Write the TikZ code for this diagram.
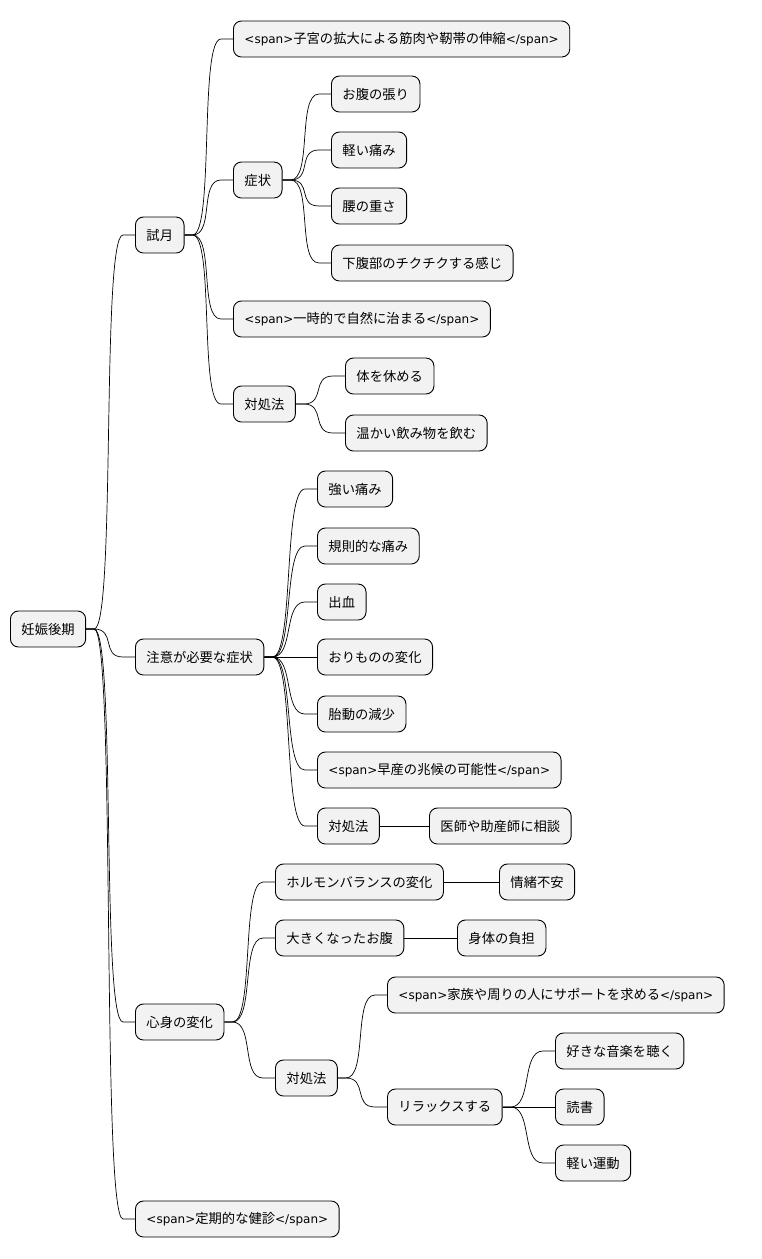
\documentclass[tikz,border=0pt]{standalone}
\usepackage{fontspec}
\setmainfont{Noto Sans CJK JP}
\newfontfamily\lat{DejaVu Sans}
\newcommand{\spo}{{\lat\fontsize{12}{14}\selectfont <span>}}
\newcommand{\spc}{{\lat\fontsize{12}{14}\selectfont </span>}}
\usetikzlibrary{calc}
\begin{document}
\begin{tikzpicture}[x=1pt,y=1pt,
  box/.style={draw=black,line width=0.9pt,fill=black!5,rounded corners=8pt,anchor=west,
    minimum height=36pt,inner xsep=11pt,font=\fontsize{13.3}{15}\selectfont},
  ln/.style={line width=0.7pt}]
\useasboundingbox (0,0) rectangle (761,-1259);
\node[box] (r) at (10,-629) {妊娠後期};
\node[box] (a) at (135,-235) {試月};
\node[box] (a1) at (233,-39) {\spo 子宮の拡大による筋肉や靭帯の伸縮\spc};
\node[box] (a2) at (233,-180) {症状};
\node[box] (a21) at (331,-94) {お腹の張り};
\node[box] (a22) at (331,-150) {軽い痛み};
\node[box] (a23) at (331,-206) {腰の重さ};
\node[box] (a24) at (331,-263) {下腹部のチクチクする感じ};
\node[box] (a3) at (233,-319) {\spo 一時的で自然に治まる\spc};
\node[box] (a4) at (233,-404) {対処法};
\node[box] (a41) at (345,-376) {体を休める};
\node[box] (a42) at (345,-433) {温かい飲み物を飲む};
\node[box] (b) at (135,-657) {注意が必要な症状};
\node[box] (b1) at (317,-489) {強い痛み};
\node[box] (b2) at (317,-546) {規則的な痛み};
\node[box] (b3) at (317,-602) {出血};
\node[box] (b4) at (317,-657) {おりものの変化};
\node[box] (b5) at (317,-714) {胎動の減少};
\node[box] (b6) at (317,-770) {\spo 早産の兆候の可能性\spc};
\node[box] (b7) at (317,-826) {対処法};
\node[box] (b71) at (429,-826) {医師や助産師に相談};
\node[box] (c) at (135,-1022) {心身の変化};
\node[box] (c1) at (275,-882) {ホルモンバランスの変化};
\node[box] (c11) at (499,-882) {情緒不安};
\node[box] (c2) at (275,-938) {大きくなったお腹};
\node[box] (c21) at (457,-938) {身体の負担};
\node[box] (c3) at (275,-1078) {対処法};
\node[box] (c31) at (387,-995) {\spo 家族や周りの人にサポートを求める\spc};
\node[box] (c32) at (387,-1107) {リラックスする};
\node[box] (c321) at (555,-1051) {好きな音楽を聴く};
\node[box] (c322) at (555,-1107) {読書};
\node[box] (c323) at (555,-1163) {軽い運動};
\node[box] (d) at (135,-1219) {\spo 定期的な健診\spc};
\foreach \p/\c in {r/a,r/b,r/c,r/d,a/a1,a/a2,a/a3,a/a4,a2/a21,a2/a22,a2/a23,a2/a24,
  a4/a41,a4/a42,b/b1,b/b2,b/b3,b/b4,b/b5,b/b6,b/b7,b7/b71,c/c1,c/c2,c/c3,c1/c11,c2/c21,
  c3/c31,c3/c32,c32/c321,c32/c322,c32/c323}
  \draw[ln] (\p.east) -- ++(8,0) .. controls +(22,0) and +(-22,0) .. ($(\c.west)+(-12,0)$) -- (\c.west);
\end{tikzpicture}
\end{document}
